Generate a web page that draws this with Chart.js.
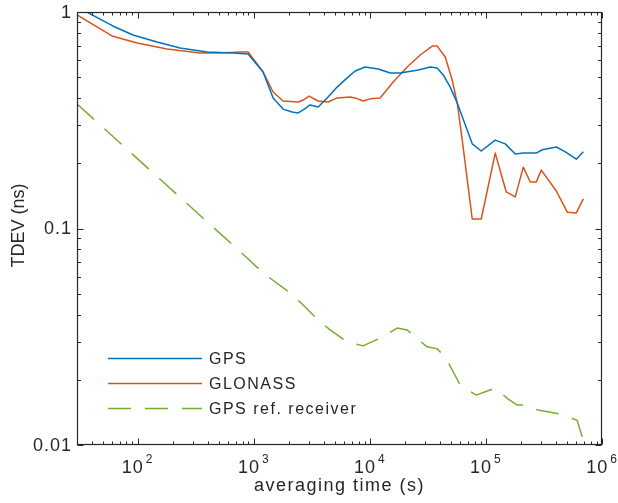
<!DOCTYPE html>
<html><head><meta charset="utf-8">
<script src="https://cdn.jsdelivr.net/npm/chart.js@4/dist/chart.umd.min.js"></script>
<style>html,body{margin:0;padding:0;background:#fff}canvas{display:block}</style>
</head><body>
<canvas id="c" width="618" height="503"></canvas>
<script>
// ---- data (averaging time in s, TDEV in ns) ----
const seriesNames = ['GPS', 'GLONASS', 'GPS ref. receiver'];
const gpsTau = [30, 35, 61, 91, 147, 232, 396, 663, 894, 1203, 1468, 1789, 2140, 2411, 2663, 3059, 3585, 4287, 5228, 6376, 7472, 9113, 11800, 14970, 18260, 26100, 33110, 38060, 42870, 49260, 56600, 76230, 91140, 120300, 146800, 178900, 209800, 271600, 305900, 404000, 483000, 600800, 690400];
const gpsTdev = [1.055, 1.011, 0.862, 0.783, 0.727, 0.682, 0.653, 0.647, 0.640, 0.528, 0.401, 0.356, 0.345, 0.342, 0.353, 0.372, 0.364, 0.401, 0.450, 0.496, 0.534, 0.557, 0.545, 0.523, 0.523, 0.540, 0.557, 0.551, 0.512, 0.450, 0.380, 0.246, 0.228, 0.256, 0.246, 0.221, 0.223, 0.223, 0.231, 0.238, 0.226, 0.209, 0.226];
const glonassTau = [30, 60, 99, 179, 345, 513, 762, 894, 1203, 1468, 1789, 2411, 2663, 2999, 3585, 4372, 5228, 6767, 7472, 8760, 10070, 12270, 15890, 20980, 27160, 34450, 38060, 44600, 51260, 56600, 62520, 76230, 91140, 120300, 149700, 178900, 209800, 241100, 271600, 299900, 404000, 502400, 600800, 690400];
const glonassTdev = [0.969, 0.775, 0.719, 0.675, 0.647, 0.647, 0.653, 0.653, 0.528, 0.427, 0.388, 0.384, 0.392, 0.409, 0.388, 0.384, 0.401, 0.405, 0.401, 0.388, 0.397, 0.401, 0.475, 0.557, 0.633, 0.696, 0.696, 0.620, 0.485, 0.380, 0.256, 0.1106, 0.1106, 0.223, 0.1475, 0.140, 0.192, 0.164, 0.164, 0.186, 0.149, 0.119, 0.118, 0.137];
const refTau = [30, 876, 1203, 2057, 2610, 3585, 4550, 6376, 8760, 12770, 17200, 20980, 24600, 31210, 38060, 44600, 51260, 60080, 66340, 82530, 120300, 155800, 186300, 209800, 228000, 305900, 462300, 610400, 690400];
const refTdev = [0.376, 0.0731, 0.0623, 0.0504, 0.0448, 0.0378, 0.0340, 0.0299, 0.0287, 0.0315, 0.0347, 0.0340, 0.0315, 0.0284, 0.0278, 0.0255, 0.0222, 0.0189, 0.0183, 0.0170, 0.0183, 0.0163, 0.0153, 0.0153, 0.0148, 0.0144, 0.0138, 0.0130, 0.0105];
const xMajorTicks = [100, 1000, 10000, 100000, 1000000];
const xTickExponents = ['2', '3', '4', '5', '6'];
const yMajorTicks = [0.01, 0.1, 1];
const yTickLabels = ['0.01', '0.1', '1'];
const xTitle = 'averaging time (s)';
const yTitle = 'TDEV (ns)';

const toPoints = (xs, ys) => xs.map((x, i) => ({x: x, y: ys[i]}));
const AX = '#262626';
const FONT = '"Liberation Sans", Arial, sans-serif';

function minorTicks(majors, lo, hi) {
  const out = [];
  const first = majors[0] / 10;
  for (let p = first; p < hi; p *= 10) {
    for (let k = 2; k <= 9; k++) {
      const v = k * p;
      if (v > lo * 1.0001 && v < hi * 0.9999) out.push(v);
    }
  }
  return out;
}

const matlabAxes = {
  id: 'matlabAxes',
  afterDatasetsDraw(chart) {
    const ctx = chart.ctx;
    const xs = chart.scales.x, ys = chart.scales.y;
    const a = chart.chartArea;
    const L = Math.round(a.left) + 0.5, R = Math.round(a.right) - 0.5;
    const T = Math.round(a.top) + 0.5, B = Math.round(a.bottom) - 0.5;
    ctx.save();
    ctx.strokeStyle = AX;
    ctx.lineWidth = 1.2;
    ctx.setLineDash([]);
    ctx.strokeRect(L, T, R - L, B - T);
    ctx.lineWidth = 1;
    ctx.beginPath();
    const xMin = xs.min, xMax = xs.max, yMin = ys.min, yMax = ys.max;
    const drawX = (v, len) => {
      const px = Math.round(xs.getPixelForValue(v)) + 0.5;
      ctx.moveTo(px, B); ctx.lineTo(px, B - len);
      ctx.moveTo(px, T); ctx.lineTo(px, T + len);
    };
    const drawY = (v, len) => {
      const py = Math.round(ys.getPixelForValue(v)) + 0.5;
      ctx.moveTo(L, py); ctx.lineTo(L + len, py);
      ctx.moveTo(R, py); ctx.lineTo(R - len, py);
    };
    xMajorTicks.forEach(v => drawX(v, 6));
    minorTicks(xMajorTicks, xMin, xMax).forEach(v => drawX(v, 3));
    yMajorTicks.forEach(v => drawY(v, 6));
    minorTicks(yMajorTicks, yMin, yMax).forEach(v => drawY(v, 3.5));
    ctx.stroke();

    // tick labels
    ctx.fillStyle = AX;
    ctx.letterSpacing = '1px';
    ctx.font = '18px ' + FONT;
    ctx.textAlign = 'right';
    ctx.textBaseline = 'middle';
    yMajorTicks.forEach((v, i) => {
      ctx.fillText(yTickLabels[i], a.left - 5, ys.getPixelForValue(v) + 1);
    });
    ctx.textAlign = 'left';
    ctx.textBaseline = 'alphabetic';
    xMajorTicks.forEach((v, i) => {
      ctx.font = '18px ' + FONT;
      const w1 = ctx.measureText('10').width;
      ctx.font = '12px ' + FONT;
      const w2 = ctx.measureText(xTickExponents[i]).width;
      const cx = xs.getPixelForValue(v);
      const x0 = cx - (w1 + w2 + 2) / 2;
      ctx.font = '18px ' + FONT;
      ctx.fillText('10', x0, 473);
      ctx.font = '12px ' + FONT;
      ctx.fillText(xTickExponents[i], x0 + w1 + 2, 463);
    });

    // axis titles
    ctx.font = '18px ' + FONT;
    ctx.letterSpacing = '1.5px';
    ctx.textAlign = 'center';
    ctx.fillText(xTitle, (a.left + a.right) / 2, 491);
    ctx.letterSpacing = '0px';
    ctx.save();
    ctx.translate(19, (a.top + a.bottom) / 2 - 3);
    ctx.rotate(-Math.PI / 2);
    ctx.textBaseline = 'middle';
    ctx.fillText(yTitle, 0, 0);
    ctx.restore();

    // legend (inside the axes, lower left)
    const rows = [358, 383, 408];
    chart.data.datasets.forEach((ds, i) => {
      const y = rows[i] + 0.5;
      ctx.strokeStyle = ds.borderColor;
      ctx.lineWidth = ds.borderWidth;
      ctx.setLineDash(ds.borderDash || []);
      ctx.beginPath();
      ctx.moveTo(108, y); ctx.lineTo(202, y);
      ctx.stroke();
      ctx.setLineDash([]);
      ctx.fillStyle = AX;
      ctx.font = '16px ' + FONT;
      ctx.letterSpacing = '1.5px';
      ctx.textAlign = 'left';
      ctx.textBaseline = 'middle';
      ctx.fillText(ds.label, 209, rows[i] + 1.5);
    });
    ctx.restore();
  }
};

new Chart(document.getElementById('c'), {
  type: 'line',
  data: {
    datasets: [
      {label: seriesNames[0], data: toPoints(gpsTau, gpsTdev), borderColor: '#0072BD', borderWidth: 1.5},
      {label: seriesNames[1], data: toPoints(glonassTau, glonassTdev), borderColor: '#D95319', borderWidth: 1.5},
      {label: seriesNames[2], data: toPoints(refTau, refTdev), borderColor: '#77AC30', borderWidth: 1.5, borderDash: [23, 14]}
    ]
  },
  options: {
    responsive: false,
    devicePixelRatio: 1,
    animation: false,
    parsing: true,
    layout: {padding: {left: 77, right: 16, top: 12, bottom: 58}},
    elements: {
      point: {radius: 0, hoverRadius: 0},
      line: {tension: 0, fill: false, borderJoinStyle: 'round', borderCapStyle: 'butt'}
    },
    plugins: {legend: {display: false}, tooltip: {enabled: false}, title: {display: false}},
    scales: {
      x: {
        type: 'logarithmic', min: 30, max: 1000000,
        ticks: {display: false},
        grid: {display: false, drawTicks: false},
        border: {display: false},
        title: {display: false}
      },
      y: {
        type: 'logarithmic', min: 0.01, max: 1,
        ticks: {display: false},
        grid: {display: false, drawTicks: false},
        border: {display: false},
        title: {display: false}
      }
    }
  },
  plugins: [matlabAxes]
});
</script>
</body></html>
